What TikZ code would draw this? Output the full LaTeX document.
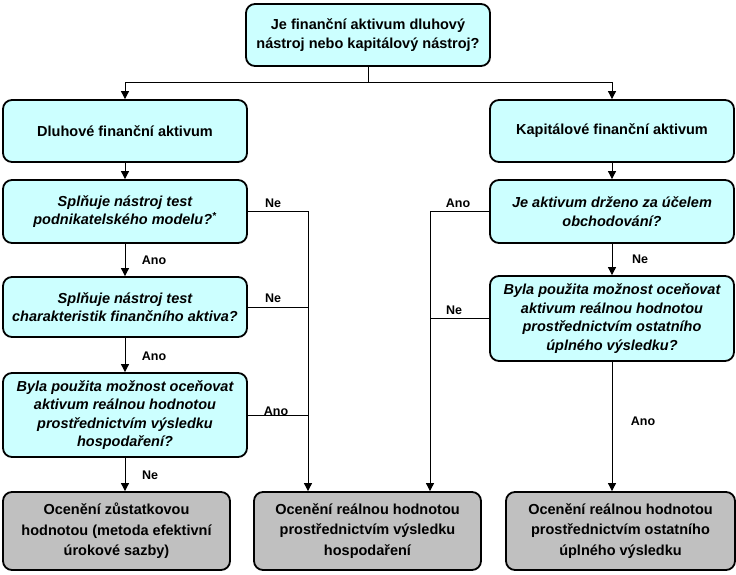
\documentclass[tikz,border=0pt]{standalone}
\usepackage{fontspec}
\setmainfont{Liberation Sans}
\usetikzlibrary{arrows.meta}
\usetikzlibrary{positioning}

\definecolor{boxcyan}{HTML}{CCFFFF}
\definecolor{boxgray}{HTML}{C0C0C0}

\begin{document}
\begin{tikzpicture}[x = 1pt, y = -1pt, line width = 0.8pt,
    box/.style = {draw, line width = 1.8pt, rounded corners = 9pt, fill = boxcyan, align = center, inner sep = 2pt,
                  minimum width = 244pt, font = \fontsize{14.5}{18.5}\selectfont\bfseries},
    ask/.style = {box, font = \fontsize{14.5}{18.5}\selectfont\bfseries\itshape},
    result/.style = {box, fill = boxgray, minimum width = 227pt, minimum height = 78pt,
                     font = \fontsize{14.5}{20.5}\selectfont\bfseries},
    lbl/.style = {font = \fontsize{12.5}{14}\selectfont\bfseries, inner sep = 1pt},
    arr/.style = {-{Triangle[length = 8pt, width = 8pt]}}]

    \useasboundingbox (0,0) rectangle (736,574);

    %\draw[help lines, opacity = 0.1] (0,0) grid[step = 50pt] (736,574);

    \node (top) at (368,35) [box, minimum height = 62pt] {Je finanční aktivum dluhový\\nástroj nebo kapitálový nástroj?};

    \coordinate (split) at (368,82);
    \coordinate (jl) at (308,0);
    \coordinate (jr) at (430,0);

    % levy sloupec
    \node (dluh) at (125,131) [box, minimum height = 62pt] {Dluhové finanční aktivum};
    \node (q1) at (125,211.5) [ask, minimum height = 63pt] {Splňuje nástroj test\\podnikatelského modelu?\textsuperscript{*}};
    \node (q2) at (125,307) [ask, minimum height = 60pt] {Splňuje nástroj test\\charakteristik finančního aktiva?};
    \node (q3) at (125,415) [ask, minimum height = 84pt] {Byla použita možnost oceňovat\\aktivum reálnou hodnotou\\prostřednictvím výsledku\\hospodaření?};

    % pravy sloupec
    \node (kap) at (612,131) [box, minimum height = 62pt] {Kapitálové finanční aktivum};
    \node (r1) at (612,211.5) [ask, minimum height = 63pt] {Je aktivum drženo za účelem\\obchodování?};
    \node (r2) at (612,318.5) [ask, minimum height = 85pt] {Byla použita možnost oceňovat\\aktivum reálnou hodnotou\\prostřednictvím ostatního\\úplného výsledku?};

    % vysledky
    \node (out1) at (116.5,531) [result] {Ocenění zůstatkovou\\hodnotou (metoda efektivní\\úrokové sazby)};
    \node (out2) at (367.5,531) [result] {Ocenění reálnou hodnotou\\prostřednictvím výsledku\\hospodaření};
    \node (out3) at (620.5,531) [result, minimum width = 229pt] {Ocenění reálnou hodnotou\\prostřednictvím ostatního\\úplného výsledku};

    \draw (top) -- (split);
    \draw[arr] (split) -| (dluh);
    \draw[arr] (split) -| (kap);

    \draw[arr] (dluh) -- (q1);
    \draw[arr] (q1) -- (q2);
    \draw[arr] (q2) -- (q3);
    \draw[arr] (q3.south) -- (q3.south |- out1.north);

    \draw[arr] (kap) -- (r1);
    \draw[arr] (r1) -- (r2);
    \draw[arr] (r2.south) -- (r2.south |- out3.north);

    \draw[arr] (q1.east) -| (jl |- out2.north);
    \draw (q2.east) -- (q2.east -| jl);
    \draw (q3.east) -- (q3.east -| jl);

    \draw[arr] (r1.west) -| (jr |- out2.north);
    \draw (r2.west) -- (r2.west -| jr);

    \node (ano1) at (154,260) [lbl] {Ano};
    \node (ano2) at (154,356) [lbl] {Ano};
    \node (ne1) at (150,475) [lbl] {Ne};
    \node (ne2) at (273,203) [lbl] {Ne};
    \node (ne3) at (273,298) [lbl] {Ne};
    \node (ano3) at (276,411) [lbl] {Ano};
    \node (ano4) at (458,203) [lbl] {Ano};
    \node (ne4) at (454,310) [lbl] {Ne};
    \node (ne5) at (640,259) [lbl] {Ne};
    \node (ano5) at (643,421) [lbl] {Ano};

\end{tikzpicture}
\end{document}
